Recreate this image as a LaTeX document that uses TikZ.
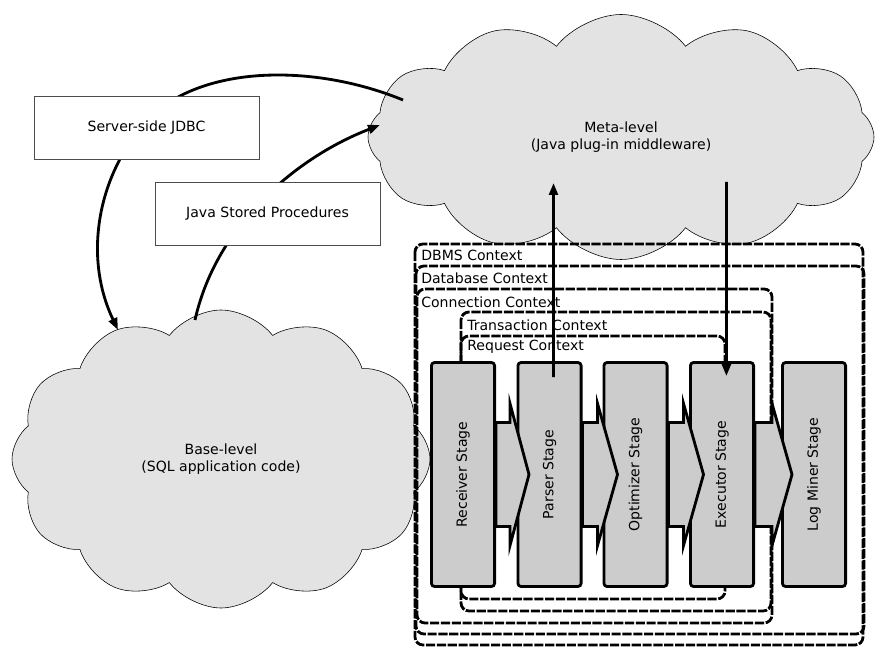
\documentclass[tikz,border=0pt]{standalone}
\usepackage{fontspec}
\setmainfont{DejaVu Sans}
\usetikzlibrary{shapes.symbols,arrows.meta}

\begin{document}
\begin{tikzpicture}[x=0.25mm,y=-0.25mm,
    cloudnode/.style={cloud, cloud puffs=12, cloud puff arc=105, cloud ignores aspect,
                      draw, thin, fill=black!11, align=center},
    plainbox/.style={draw=black!70, fill=white, minimum width=56.25mm, minimum height=15.75mm},
    context/.style={line width=2pt, dash pattern=on 6.5pt off 1.2pt, rounded corners=2mm},
    ctxlabel/.style={anchor=west, inner sep=0pt},
    stage/.style={draw, line width=2pt, fill=black!20, rounded corners=0.8mm,
                  minimum width=15.8mm, minimum height=56mm},
    flow/.style={draw, line width=2pt, fill=black!20},
    ctrl/.style={line width=2pt, -{Triangle[length=3mm,width=2.2mm]}}]
    \useasboundingbox (0,0) rectangle (876,647);

    %the two levels
    \node[cloudnode, minimum width=126.5mm, minimum height=61.25mm] (meta) at (621,137)
        {Meta-level\\(Java plug-in middleware)};
    \node[cloudnode, minimum width=104.5mm, minimum height=74.5mm] (base) at (221,459)
        {Base-level\\(SQL application code)};

    %the calls between the levels
    \coordinate (jdbcfrom) at (403,100);
    \coordinate (jdbcto)   at (118,330);
    \coordinate (jspfrom)  at (195,320);
    \coordinate (jspto)    at (380,125);
    \draw[ctrl] (jdbcfrom) .. controls (330,70) and (240,65) .. (180,96)
                           .. controls (110,135) and (75,240) .. (jdbcto);
    \draw[ctrl] (jspfrom) .. controls (215,230) and (290,160) .. (jspto);

    \node[plainbox] (jdbc) at (146.5,127.5) {Server-side JDBC};
    \node[plainbox] (jsp)  at (267.5,213.5) {Java Stored Procedures};

    %draw the nested contexts
    \draw[context] (415,244) rectangle (863,645);
    \draw[context] (416,266) rectangle (864,634);
    \draw[context] (417,289) rectangle (772,623);
    \draw[context] (461,312) rectangle (771,611);
    \draw[context] (461,336) rectangle (725,599);
    \node[ctxlabel] (dbmslbl)  at (421,255) {DBMS Context};
    \node[ctxlabel] (dblbl)    at (421,278) {Database Context};
    \node[ctxlabel] (connlbl)  at (421,302) {Connection Context};
    \node[ctxlabel] (translbl) at (467,325) {Transaction Context};
    \node[ctxlabel] (reqlbl)   at (467,347) {Request Context};

    %the stages
    \node[stage] (recv)   at (463,474.5)   {\rotatebox{90}{Receiver Stage}};
    \node[stage] (parser) at (549.5,474.5) {\rotatebox{90}{Parser Stage}};
    \node[stage] (optim)  at (635.5,474.5) {\rotatebox{90}{Optimizer Stage}};
    \node[stage] (exec)   at (722,474.5)   {\rotatebox{90}{Executor Stage}};
    \node[stage] (logmin) at (814,474.5)   {\rotatebox{90}{Log Miner Stage}};

    %arrows from stage to stage
    \draw[flow] ([yshift=13mm]recv.east) -- ++(14,0) -- ++(0,-19) -- ++(19,71)
                -- ++(-19,71) -- ++(0,-19) -- ++(-14,0) -- cycle;
    \draw[flow] ([yshift=13mm]parser.east) -- ++(15,0) -- ++(0,-19) -- ++(20,71)
                -- ++(-20,71) -- ++(0,-19) -- ++(-15,0) -- cycle;
    \draw[flow] ([yshift=13mm]optim.east) -- ++(15,0) -- ++(0,-19) -- ++(20,71)
                -- ++(-20,71) -- ++(0,-19) -- ++(-15,0) -- cycle;
    \draw[flow] ([yshift=13mm]exec.east) -- ++(17,0) -- ++(0,-19) -- ++(20,71)
                -- ++(-20,71) -- ++(0,-19) -- ++(-17,0) -- cycle;

    %up to the meta-level and back down
    \coordinate (parserup) at (553.5,183);
    \coordinate (execdown) at (726.5,182);
    \draw[ctrl] ([xshift=1mm,yshift=-4mm]parser.north) -- (parserup);
    \draw[ctrl] (execdown) -- ([xshift=1.1mm,yshift=-3.75mm]exec.north);
\end{tikzpicture}
\end{document}
